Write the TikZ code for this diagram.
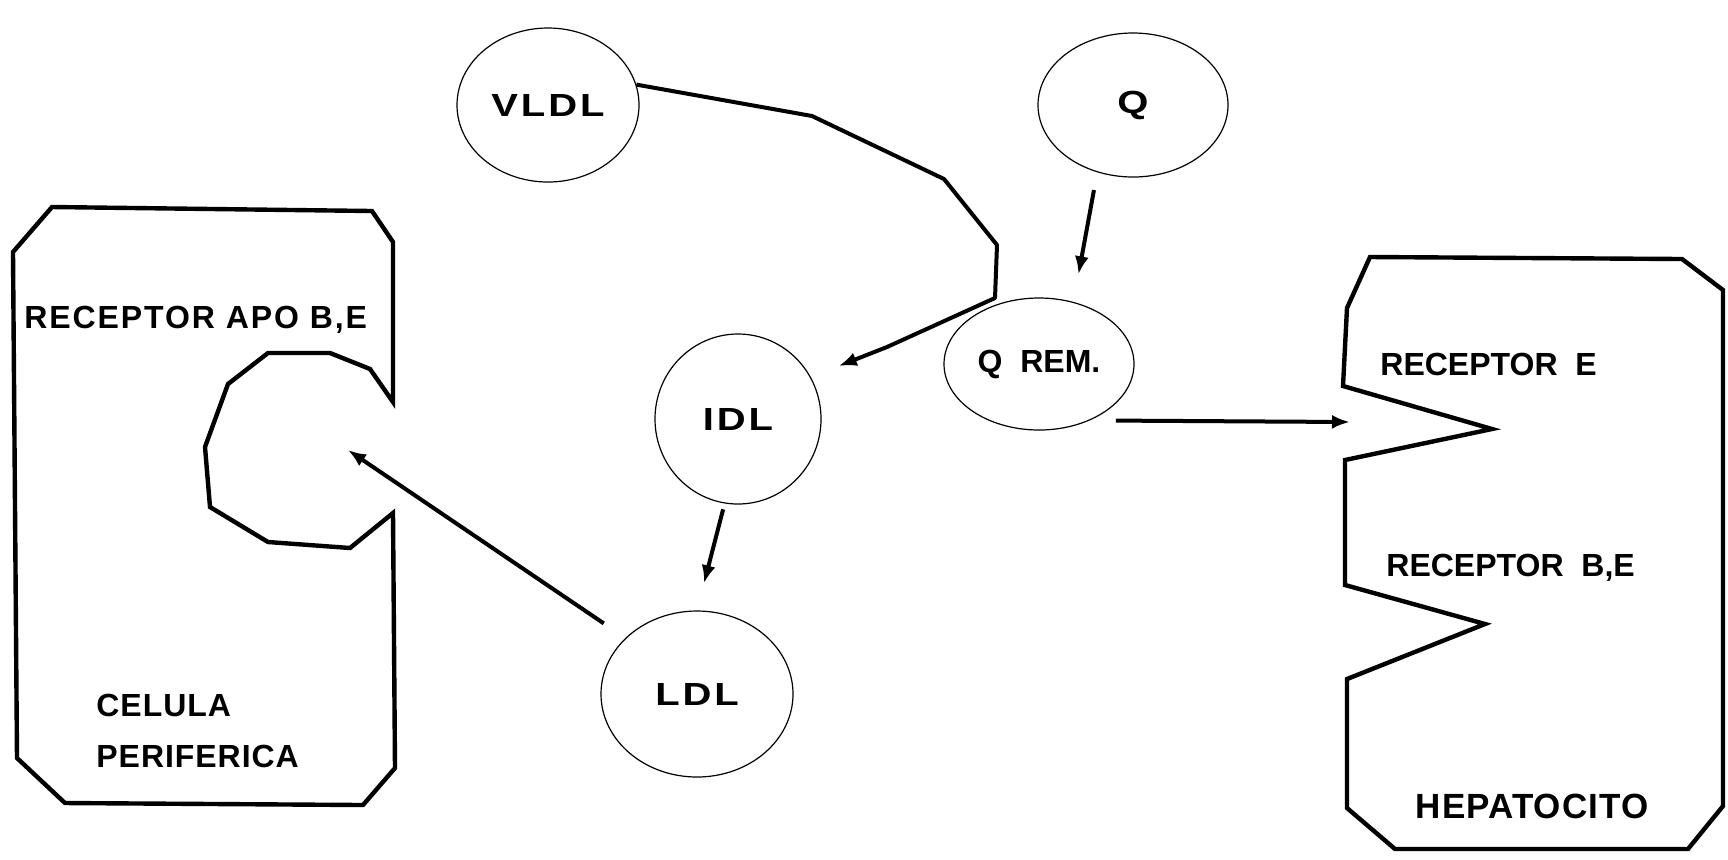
\documentclass[tikz,border=0pt]{standalone}
\usepackage{fontspec}
\setmainfont{Liberation Sans}
\newfontfamily\widefont[FakeStretch=1.25]{Liberation Sans}
\usetikzlibrary{arrows.meta, shapes.geometric}

\newcommand\txtfont{\fontsize{16}{19}\selectfont\bfseries}
\newcommand\lipofont{\fontsize{16}{19}\selectfont\widefont\bfseries\addfontfeature{LetterSpace=9}}

\tikzset{
	lipo/.style={ellipse, draw, line width=0.6pt, inner sep=0pt, font=\lipofont},
	txt/.style={inner sep=0pt, font=\txtfont},
	cell/.style={line width=2.2pt, line join=miter},
	flow/.style={line width=2pt, line join=round, -{Latex[length=9pt, width=7pt]}}
}

\begin{document}
\begin{tikzpicture}[x=0.5pt, y=-0.5pt]
		\useasboundingbox (0,0) rectangle (1728,859);
		
		% Lipoproteinas
		\node[lipo, minimum width=91pt, minimum height=77pt] (vldl) at (548,105) {VLDL};
		\node[lipo, minimum width=95pt, minimum height=72pt] (q) at (1133,105) {Q};
		\node[lipo, minimum width=95pt, minimum height=66pt, font=\txtfont] (qrem) at (1039,364) {Q\ \ REM.};
		\node[lipo, minimum width=83pt, minimum height=85pt] (idl) at (738,419) {IDL};
		\node[lipo, minimum width=96pt, minimum height=83pt] (ldl) at (697,694) {LDL};
		
		% Celula periferica
		\draw[cell] (13,252) -- (52,207) -- (372,211) -- (393,242) -- (393,402) -- (370,369)
			-- (330,353) -- (268,353) -- (228,384) -- (205,447) -- (210,507) -- (268,542)
			-- (350,548) -- (393,513) -- (395,768) -- (363,805) -- (65,803) -- (17,758) -- cycle;
		\node[txt, anchor=west, font=\txtfont\addfontfeature{LetterSpace=6}] (recapo) at (24,320) {RECEPTOR APO B,E};
		\node[txt, anchor=west, font=\txtfont\addfontfeature{LetterSpace=3}] (cel) at (96,705) {CELULA};
		\node[txt, anchor=west, font=\txtfont\addfontfeature{LetterSpace=3}] (per) at (96,756) {PERIFERICA};
		
		% Hepatocito
		\draw[cell] (1347,308) -- (1370,257) -- (1682,259) -- (1723,290) -- (1723,806)
			-- (1688,849) -- (1395,849) -- (1347,808) -- (1347,679) -- (1485,624)
			-- (1345,585) -- (1345,460) -- (1492,429) -- (1343,386) -- cycle;
		\node[txt, anchor=west] (rece) at (1380,364) {RECEPTOR\ \ E};
		\node[txt, anchor=west] (recbe) at (1386,568) {RECEPTOR\ \ B,E};
		\node[txt, font=\fontsize{17.5}{21}\selectfont\bfseries\addfontfeature{LetterSpace=3}] (hep) at (1532,806) {HEPATOCITO};
		
		% Flechas
		\coordinate (recapin) at (348,450);
		\coordinate (recein) at (1350,422);
		\draw[flow, shorten >=15pt] (vldl.13) -- (812,116) -- (944,179) -- (997,245)
			-- (995,298) -- (887,347) -- (idl.30);
		\draw[flow, shorten <=9pt, shorten >=14pt] (q.242) -- (qrem.61);
		\draw[flow, shorten <=3pt, shorten >=14pt] (idl.261) -- (ldl.90);
		\draw[flow, shorten <=13pt] (ldl.142) -- (recapin);
		\draw[flow, shorten <=13pt] (qrem.312) -- (recein);
	\end{tikzpicture}
\end{document}
